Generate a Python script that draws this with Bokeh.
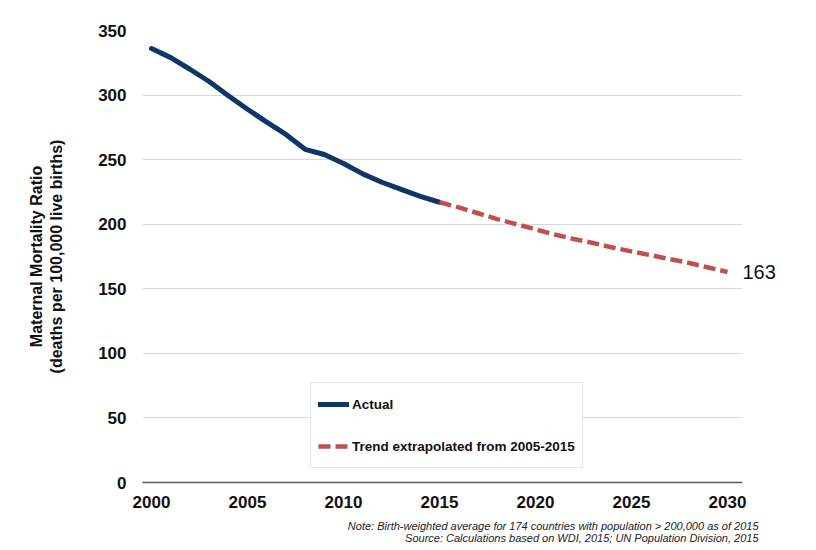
from bokeh.plotting import figure
from bokeh.models import Range1d, FixedTicker, Legend, LegendItem, LinearAxis, Title
from bokeh.embed import file_html
from bokeh.resources import INLINE

years_actual = list(range(2000, 2016))
mmr_actual = [336, 329, 320, 310.5, 299.5, 289, 279, 269.5, 258, 254, 247, 239, 232.5, 227, 221.5, 217]
years_trend = list(range(2015, 2031))
mmr_trend = [217, 213, 208.5, 204, 200, 196, 192, 188.5, 185.5, 182, 179, 176, 173, 170, 166.5, 163]
x_ticks = [2000, 2005, 2010, 2015, 2020, 2025, 2030]
y_ticks = [0, 50, 100, 150, 200, 250, 300, 350]
end_label = "163"
legend_labels = ["Actual", "Trend extrapolated from 2005-2015"]
y_title = "Maternal Mortality Ratio\n(deaths per 100,000 live births)"
note_lines = [
    "Note: Birth-weighted average for 174 countries with population > 200,000 as of 2015",
    "Source: Calculations based on WDI, 2015; UN Population Division, 2015",
]

FONT = "Liberation Sans"
BLUE = "#0e3768"
RED = "#c0504d"

p = figure(width=808, height=548, output_backend="svg", toolbar_location=None,
           x_range=Range1d(1999.53, 2030.78), y_range=Range1d(0, 350),
           min_border_left=142, min_border_right=66, min_border_top=30, min_border_bottom=66)
p.outline_line_color = None
p.background_fill_color = "white"
p.border_fill_color = "white"

p.xgrid.grid_line_color = None
p.ygrid.grid_line_color = "#d9d9d9"
p.ygrid.grid_line_width = 1
p.ygrid.ticker = FixedTicker(ticks=y_ticks)

p.xaxis.ticker = FixedTicker(ticks=x_ticks)
p.yaxis.ticker = FixedTicker(ticks=y_ticks)
for ax in (p.xaxis, p.yaxis):
    ax.major_tick_line_color = None
    ax.minor_tick_line_color = None
    ax.major_label_text_font = FONT
    ax.major_label_text_font_style = "bold"
    ax.major_label_text_font_size = "17px"
    ax.major_label_text_color = "#111111"
p.yaxis.axis_line_color = None
p.xaxis.axis_line_color = "#595959"
p.xaxis.axis_line_width = 1.6
p.yaxis.major_label_standoff = 10
p.xaxis.major_label_standoff = 7
# invisible spacer label to leave room between the years and the notes
p.xaxis.axis_label = " "
p.xaxis.axis_label_text_font_size = "1px"
p.xaxis.axis_label_standoff = 3

p.yaxis.axis_label = y_title
p.yaxis.axis_label_text_font = FONT
p.yaxis.axis_label_text_font_style = "bold"
p.yaxis.axis_label_text_font_size = "16px"
p.yaxis.axis_label_text_color = "#111111"
p.yaxis.axis_label_standoff = 30

r1 = p.line(years_actual, mmr_actual, line_color=BLUE, line_width=5, line_cap="round", line_join="round")
r2 = p.line(years_trend, mmr_trend, line_color=RED, line_width=4.5, line_dash="12 5")

legend = Legend(items=[LegendItem(label=legend_labels[0], renderers=[r1]),
                       LegendItem(label=legend_labels[1], renderers=[r2])],
                location=(168, 14), orientation="vertical")
legend.label_text_font = FONT
legend.label_text_font_style = "bold"
legend.label_text_font_size = "13.5px"
legend.label_text_color = "#111111"
legend.glyph_width = 31
legend.glyph_height = 28
legend.label_height = 28
legend.spacing = 14
legend.padding = 7
legend.margin = 0
legend.label_standoff = 3
legend.border_line_color = "#d0d0d0"
legend.border_line_width = 1
legend.background_fill_color = "white"
legend.background_fill_alpha = 1
p.add_layout(legend, "center")

# end value label as a right-hand axis with one tick
end_axis = LinearAxis(ticker=FixedTicker(ticks=[mmr_trend[-1]]),
                      major_label_overrides={mmr_trend[-1]: end_label})
end_axis.axis_line_color = None
end_axis.major_tick_line_color = None
end_axis.minor_tick_line_color = None
end_axis.major_label_standoff = -6
end_axis.major_label_text_font = FONT
end_axis.major_label_text_font_size = "20px"
end_axis.major_label_text_color = "#111111"
p.add_layout(end_axis, "right")

note1 = Title(text=note_lines[0], align="right", offset=-16, standoff=0,
              text_font=FONT, text_font_style="italic", text_font_size="11px",
              text_color="#222222")
note2 = Title(text=note_lines[1], align="right", offset=-16, standoff=-4,
              text_font=FONT, text_font_style="italic", text_font_size="11px",
              text_color="#222222")
p.add_layout(note1, "below")
p.add_layout(note2, "below")

open("out.html", "w").write(file_html(p, INLINE))
